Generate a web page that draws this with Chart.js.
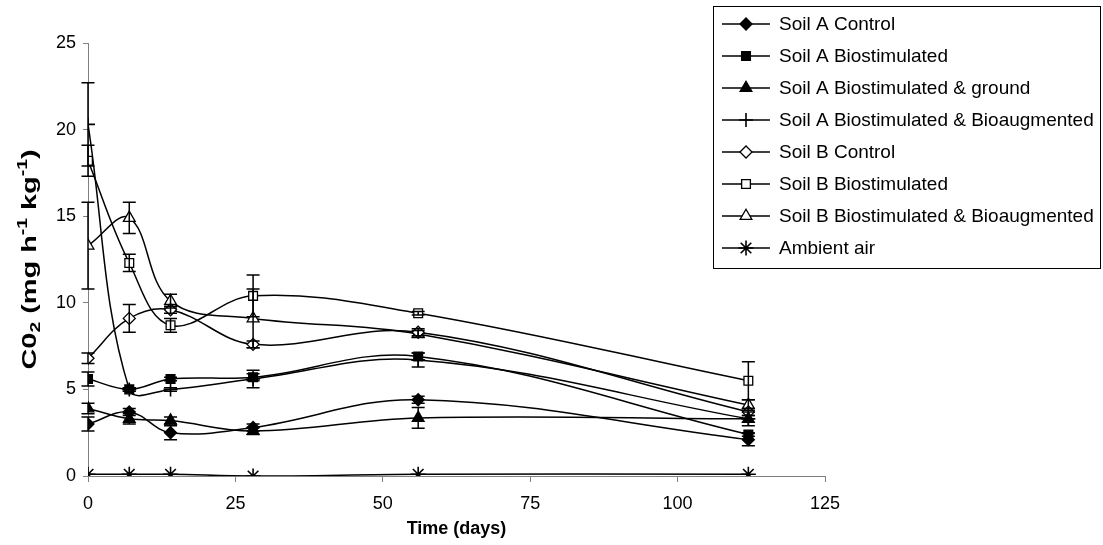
<!DOCTYPE html>
<html>
<head>
<meta charset="utf-8">
<title>CO2 evolution</title>
<script src="https://cdn.jsdelivr.net/npm/chart.js@4.4.0/dist/chart.umd.min.js"></script>
<style>
  html, body { margin: 0; padding: 0; background: #fff; }
  #wrap { width: 1103px; height: 545px; }
</style>
</head>
<body>
<div id="wrap"><canvas id="co2Chart" width="1103" height="545"></canvas></div>
<script>
// sampling days
const days = [0, 7, 14, 28, 56, 112];

// mean respiration per treatment
const soilAControl      = [3.0, 3.7, 2.5, 2.8, 4.4, 2.1];
const soilABio          = [5.6, 5.0, 5.6, 5.7, 6.9, 2.4];
const soilABioGround    = [3.9, 3.3, 3.2, 2.6, 3.35, 3.3];
const soilABioAug       = [20.3, 5.0, 5.0, 5.6, 6.7, 3.3];
const soilBControl      = [6.8, 9.1, 9.6, 7.6, 8.3, 3.7];
const soilBBio          = [18.2, 12.3, 8.7, 10.4, 9.4, 5.5];
const soilBBioAug       = [13.3, 14.9, 10.1, 9.1, 8.2, 4.1];
const ambientAir        = [0.1, 0.1, 0.1, 0.0, 0.1, 0.1];

// standard errors (+/-)
const errAControl   = [0.4, 0.2, 0.4, 0.2, 0.2, 0.35];
const errABio       = [0.4, 0.1, 0.1, 0.2, 0.2, 0.1];
const errAGround    = [0.3, 0.3, 0.2, 0.2, 0.6, 0.2];
const errABioAug    = [2.4, 0.1, 0.1, 0.5, 0.4, 0.4];
const errBControl   = [0.3, 0.8, 0.2, 0.2, 0.2, 0.2];
const errBBio       = [0.9, 0.5, 0.4, 1.2, 0.1, 1.1];
const errBBioAug    = [2.5, 0.9, 0.4, 1.7, 0.2, 0.3];

const xTicks = [0, 25, 50, 75, 100, 125];
const yTicks = [0, 5, 10, 15, 20, 25];

const FONT = '"Liberation Sans", Arial, sans-serif';

const markerSize = { rect: 6.2, rectRot: 6, triangle: 6.8, cross: 7, star: 7.5 };

function series(label, values, errors, style, fill) {
    return {
        label: label,
        data: days.map((d, i) => ({ x: d, y: values[i] })),
        errors: errors,
        borderColor: '#000',
        borderWidth: 1.5,
        backgroundColor: fill,
        pointStyle: style,
        pointRadius: markerSize[style],
        pointBorderColor: '#000',
        pointBackgroundColor: fill,
        pointBorderWidth: (style === 'cross' || style === 'star') ? 1.6 : 1.3,
        tension: 0.38,
        fill: false
    };
}

const datasets = [
    series('Soil A Control', soilAControl, errAControl, 'rectRot', '#000'),
    series('Soil A Biostimulated', soilABio, errABio, 'rect', '#000'),
    series('Soil A Biostimulated & ground', soilABioGround, errAGround, 'triangle', '#000'),
    series('Soil A Biostimulated & Bioaugmented', soilABioAug, errABioAug, 'cross', '#000'),
    series('Soil B Control', soilBControl, errBControl, 'rectRot', '#fff'),
    series('Soil B Biostimulated', soilBBio, errBBio, 'rect', '#fff'),
    series('Soil B Biostimulated & Bioaugmented', soilBBioAug, errBBioAug, 'triangle', '#fff'),
    series('Ambient air', ambientAir, null, 'star', '#000')
];

// vertical error bars with caps, drawn through the scales
const errorBars = {
    id: 'errorBars',
    afterDatasetsDraw(chart) {
        const ctx = chart.ctx;
        const ys = chart.scales.y;
        ctx.save();
        ctx.strokeStyle = '#000';
        ctx.lineWidth = 1.5;
        chart.data.datasets.forEach((ds, di) => {
            if (!ds.errors) return;
            const meta = chart.getDatasetMeta(di);
            meta.data.forEach((pt, i) => {
                const e = ds.errors[i];
                const v = ds.data[i].y;
                const top = ys.getPixelForValue(v + e);
                const bot = ys.getPixelForValue(v - e);
                const x = pt.x;
                ctx.beginPath();
                ctx.moveTo(x, top); ctx.lineTo(x, bot);
                ctx.moveTo(x - 6.5, top); ctx.lineTo(x + 6.5, top);
                ctx.moveTo(x - 6.5, bot); ctx.lineTo(x + 6.5, bot);
                ctx.stroke();
            });
        });
        ctx.restore();
    }
};

// rotated y title with sub- and superscripts
const yTitle = {
    id: 'yTitle',
    afterDraw(chart) {
        const ctx = chart.ctx;
        const area = chart.chartArea;
        const parts = [
            ['C0', 0], ['2', 1], [' (mg h', 0], ['-1', -1], [' kg', 0], ['-1', -1], [')', 0]
        ];
        const big = 'bold 21px ' + FONT;
        const small = 'bold 14px ' + FONT;
        const span = 220;
        ctx.save();
        let total = 0;
        parts.forEach(p => { ctx.font = p[1] ? small : big; total += ctx.measureText(p[0]).width; });
        ctx.translate(30, (area.top + area.bottom) / 2);
        ctx.rotate(-Math.PI / 2);
        ctx.scale(span / total, 1);
        ctx.fillStyle = '#000';
        ctx.textBaseline = 'middle';
        ctx.textAlign = 'left';
        let x = -total / 2;
        parts.forEach(p => {
            ctx.font = p[1] ? small : big;
            const dy = p[1] === 1 ? 6 : (p[1] === -1 ? -7 : 0);
            ctx.fillText(p[0], x, dy);
            x += ctx.measureText(p[0]).width;
        });
        ctx.restore();
    }
};

// boxed legend in the upper right
const boxLegend = {
    id: 'boxLegend',
    afterDraw(chart) {
        const ctx = chart.ctx;
        ctx.save();
        ctx.fillStyle = '#fff';
        ctx.fillRect(713.5, 6.5, 387, 262);
        ctx.strokeStyle = '#000';
        ctx.lineWidth = 1;
        ctx.strokeRect(713.5, 6.5, 387, 262);
        chart.data.datasets.forEach((ds, i) => {
            const y = 24 + 32 * i;
            ctx.strokeStyle = '#000';
            ctx.lineWidth = 1.5;
            ctx.beginPath();
            ctx.moveTo(722, y); ctx.lineTo(770, y);
            ctx.stroke();
            ctx.fillStyle = ds.pointBackgroundColor;
            ctx.strokeStyle = '#000';
            ctx.lineWidth = ds.pointBorderWidth;
            Chart.helpers.drawPoint(ctx, {
                pointStyle: ds.pointStyle,
                radius: ds.pointRadius,
                rotation: 0,
                borderWidth: ds.pointBorderWidth
            }, 746, y);
            ctx.fillStyle = '#000';
            ctx.font = '19px ' + FONT;
            ctx.textBaseline = 'middle';
            ctx.textAlign = 'left';
            ctx.fillText(ds.label, 779, y + 1);
        });
        ctx.restore();
    }
};

new Chart(document.getElementById('co2Chart'), {
    type: 'line',
    data: { datasets: datasets },
    options: {
        responsive: false,
        animation: false,
        devicePixelRatio: 1,
        layout: { padding: { left: 0, right: 278, top: 43, bottom: 0 } },
        plugins: {
            legend: { display: false },
            tooltip: { enabled: false }
        },
        scales: {
            x: {
                type: 'linear',
                min: 0,
                max: 125,
                afterBuildTicks: s => { s.ticks = xTicks.map(v => ({ value: v })); },
                afterFit: s => { s.height = 69; },
                ticks: { color: '#000', font: { family: FONT, size: 18 }, padding: 11, maxRotation: 0 },
                grid: { drawOnChartArea: false, drawTicks: true, tickLength: 6, color: '#808080' },
                border: { color: '#808080', width: 1 },
                title: {
                    display: true,
                    text: 'Time (days)',
                    color: '#000',
                    font: { family: FONT, size: 18, weight: 'bold' },
                    padding: { top: 0, bottom: 5 }
                }
            },
            y: {
                min: 0,
                max: 25,
                afterBuildTicks: s => { s.ticks = yTicks.map(v => ({ value: v })); },
                afterFit: s => { s.width = 88; },
                ticks: { color: '#000', font: { family: FONT, size: 18 }, padding: 7 },
                grid: { drawOnChartArea: false, drawTicks: true, tickLength: 5, color: '#808080' },
                border: { color: '#808080', width: 1 }
            }
        }
    },
    plugins: [errorBars, yTitle, boxLegend]
});
</script>
</body>
</html>
